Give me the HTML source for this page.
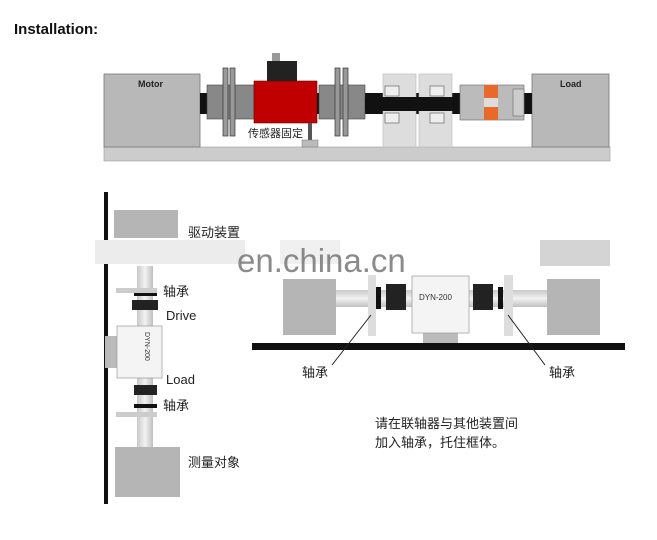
<!DOCTYPE html>
<html><head><meta charset="utf-8"><style>
body{margin:0;background:#fff;width:657px;height:540px;overflow:hidden}
svg{display:block}
text{font-family:"Liberation Sans","Noto Sans CJK SC",sans-serif}
</style></head><body>
<svg width="657" height="540" viewBox="0 0 657 540" xmlns="http://www.w3.org/2000/svg">
<defs>
<linearGradient id="sv" x1="0" y1="0" x2="0" y2="1"><stop offset="0" stop-color="#c8c8c8"/><stop offset="0.5" stop-color="#f2f2f2"/><stop offset="1" stop-color="#c0c0c0"/></linearGradient>
<linearGradient id="sh" x1="0" y1="0" x2="1" y2="0"><stop offset="0" stop-color="#c8c8c8"/><stop offset="0.5" stop-color="#f2f2f2"/><stop offset="1" stop-color="#c0c0c0"/></linearGradient>
</defs>
<text x="14" y="34" font-size="15" font-weight="bold" fill="#111">Installation:</text>

<!-- top diagram -->
<rect x="104" y="147" width="506" height="14" fill="#ccc" stroke="#999" stroke-width="0.6"/>
<rect x="104" y="74" width="96" height="73" fill="#b8b8b8" stroke="#777" stroke-width="0.8"/>
<text x="138" y="87" font-size="9" font-weight="bold" fill="#222">Motor</text>
<rect x="532" y="74" width="77" height="73" fill="#b8b8b8" stroke="#777" stroke-width="0.8"/>
<text x="560" y="87" font-size="9" font-weight="bold" fill="#222">Load</text>
<rect x="200" y="93" width="332" height="21" fill="#111"/>
<rect x="207" y="85" width="47" height="34" fill="#888" stroke="#444" stroke-width="0.6"/>
<rect x="223" y="68" width="5" height="68" fill="#999" stroke="#333" stroke-width="0.7"/>
<rect x="230" y="68" width="5" height="68" fill="#999" stroke="#333" stroke-width="0.7"/>
<rect x="319" y="85" width="46" height="34" fill="#888" stroke="#444" stroke-width="0.6"/>
<rect x="335" y="68" width="5" height="68" fill="#999" stroke="#333" stroke-width="0.7"/>
<rect x="343" y="68" width="5" height="68" fill="#999" stroke="#333" stroke-width="0.7"/>
<rect x="254" y="81" width="63" height="42" fill="#c00000" stroke="#600" stroke-width="0.6"/>
<rect x="267" y="61" width="30" height="20" fill="#222"/>
<rect x="272" y="53" width="8" height="8" fill="#999"/>
<rect x="308" y="123" width="4" height="22" fill="#555"/>
<rect x="302" y="140" width="16" height="7" fill="#bbb" stroke="#777" stroke-width="0.5"/>
<text x="248" y="137" font-size="11" fill="#222">传感器固定</text>
<rect x="383" y="74" width="33" height="73" fill="#ddd" stroke="#bbb" stroke-width="0.6"/>
<rect x="419" y="74" width="33" height="73" fill="#ddd" stroke="#bbb" stroke-width="0.6"/>
<rect x="385" y="86" width="14" height="10" fill="#eee" stroke="#555" stroke-width="0.6"/>
<rect x="385" y="113" width="14" height="10" fill="#eee" stroke="#555" stroke-width="0.6"/>
<rect x="430" y="86" width="14" height="10" fill="#eee" stroke="#555" stroke-width="0.6"/>
<rect x="430" y="113" width="14" height="10" fill="#eee" stroke="#555" stroke-width="0.6"/>
<rect x="365" y="97" width="95" height="14" fill="#111"/>
<rect x="460" y="85" width="64" height="35" fill="#bbb" stroke="#666" stroke-width="0.6"/>
<rect x="484" y="85" width="14" height="35" fill="#e86a2a"/>
<rect x="484" y="98" width="14" height="9" fill="#ddd"/>
<rect x="513" y="89" width="11" height="27" fill="#ccc" stroke="#666" stroke-width="0.6"/>

<!-- left vertical diagram -->
<rect x="104" y="192" width="4" height="312" fill="#111"/>
<rect x="114" y="210" width="64" height="28" fill="#b5b5b5"/>
<text x="188" y="237" font-size="13" fill="#222">驱动装置</text>
<rect x="95" y="240" width="150" height="24" fill="#ececec"/>
<rect x="280" y="240" width="60" height="24" fill="#f0f0f0"/>
<rect x="540" y="240" width="70" height="26" fill="#d4d4d4"/>
<rect x="137" y="266" width="16" height="182" fill="url(#sh)"/>
<rect x="116" y="288" width="41" height="5" fill="#ccc"/>
<rect x="116" y="412" width="41" height="5" fill="#ccc"/>
<rect x="134" y="293" width="23" height="3" fill="#111"/>
<rect x="132" y="300" width="26" height="10" fill="#222"/>
<rect x="134" y="385" width="23" height="10" fill="#222"/>
<rect x="134" y="404" width="23" height="4" fill="#111"/>
<rect x="105" y="336" width="12" height="32" fill="#bbb"/>
<rect x="117" y="326" width="45" height="52" fill="#f4f4f4" stroke="#999" stroke-width="0.7"/>
<text x="145" y="332" font-size="7" fill="#333" transform="rotate(90 145 332)">DYN-200</text>
<text x="163" y="296" font-size="13" fill="#222">轴承</text>
<text x="166" y="320" font-size="13" fill="#222">Drive</text>
<text x="166" y="384" font-size="13" fill="#222">Load</text>
<text x="163" y="410" font-size="13" fill="#222">轴承</text>
<rect x="115" y="447" width="65" height="50" fill="#b5b5b5"/>
<text x="188" y="467" font-size="13" fill="#222">测量对象</text>

<!-- right horizontal diagram -->
<rect x="252" y="343" width="373" height="7" fill="#111"/>
<rect x="283" y="279" width="53" height="56" fill="#b5b5b5"/>
<rect x="547" y="279" width="53" height="56" fill="#b5b5b5"/>
<rect x="336" y="290" width="211" height="17" fill="url(#sv)"/>
<rect x="368" y="275" width="8" height="61" fill="#ddd"/>
<rect x="504" y="275" width="9" height="61" fill="#ddd"/>
<rect x="376" y="287" width="5" height="22" fill="#111"/>
<rect x="386" y="284" width="20" height="26" fill="#222"/>
<rect x="473" y="284" width="20" height="26" fill="#222"/>
<rect x="498" y="287" width="5" height="22" fill="#111"/>
<rect x="423" y="333" width="35" height="10" fill="#bbb"/>
<rect x="412" y="276" width="57" height="57" fill="#f4f4f4" stroke="#999" stroke-width="0.7"/>
<text x="419" y="300" font-size="8" fill="#333">DYN-200</text>
<line x1="371" y1="315" x2="332" y2="365" stroke="#222" stroke-width="1"/>
<line x1="508" y1="315" x2="545" y2="365" stroke="#222" stroke-width="1"/>
<text x="302" y="377" font-size="13" fill="#222">轴承</text>
<text x="549" y="377" font-size="13" fill="#222">轴承</text>
<text x="375" y="428" font-size="13" fill="#222">请在联轴器与其他装置间</text>
<text x="375" y="447" font-size="13" fill="#222">加入轴承，托住框体。</text>
<text x="237" y="272" font-size="33" fill="#777" opacity="0.85">en.china.cn</text>
</svg>
</body></html>
